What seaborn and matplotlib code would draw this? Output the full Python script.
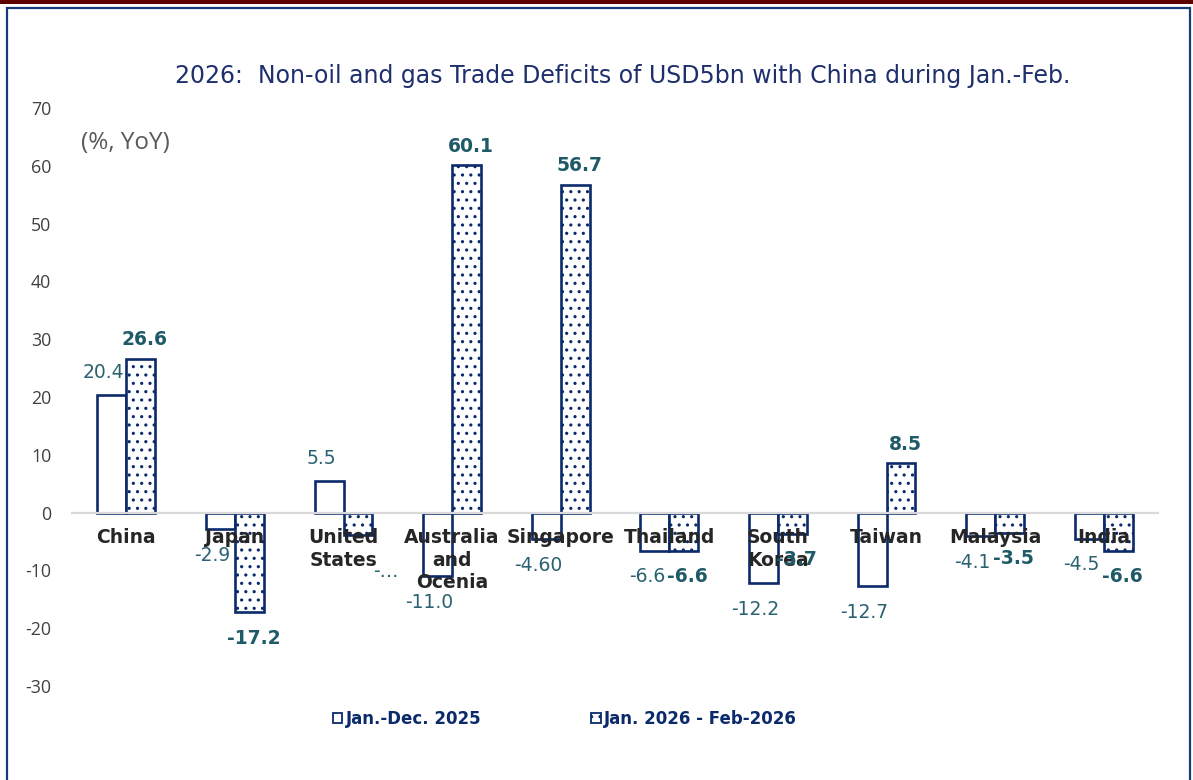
import matplotlib
matplotlib.use("Agg")
import matplotlib.pyplot as plt
import seaborn as sns
import pandas as pd
from matplotlib.patches import Rectangle, Patch

# ---- data ----
countries = ["China", "Japan", "United\nStates", "Australia\nand\nOcenia", "Singapore",
             "Thailand", "South\nKorea", "Taiwan", "Malaysia", "India"]
series_names = ["Jan.-Dec. 2025", "Jan. 2026 - Feb-2026"]
values_2025 = [20.4, -2.9, 5.5, -11.0, -4.6, -6.6, -12.2, -12.7, -4.1, -4.5]
values_2026 = [26.6, -17.2, -3.9, 60.1, 56.7, -6.6, -3.7, 8.5, -3.5, -6.6]
labels_2025 = ["20.4", "-2.9", "5.5", "-11.0", "-4.60", "-6.6", "-12.2", "-12.7", "-4.1", "-4.5"]
labels_2026 = ["26.6", "-17.2", "-\u2026", "60.1", "56.7", "-6.6", "-3.7", "8.5", "-3.5", "-6.6"]
y_ticks = [-30, -20, -10, 0, 10, 20, 30, 40, 50, 60, 70]
title = "2026:  Non-oil and gas Trade Deficits of USD5bn with China during Jan.-Feb."
unit_label = "(%, YoY)"

NAVY = "#0b2a6b"
HATCH = "#34497f"
TEAL = "#2b6272"
TEAL_B = "#1f5a68"

sns.set_theme(style="white")
plt.rcParams["font.family"] = ["DejaVu Sans"]
plt.rcParams["axes.unicode_minus"] = False
plt.rcParams["hatch.linewidth"] = 1.1

df = pd.DataFrame({
    "country": countries * 2,
    "period": [series_names[0]] * len(countries) + [series_names[1]] * len(countries),
    "value": values_2025 + values_2026,
})

fig = plt.figure(figsize=(11.93, 7.80), dpi=100)
W, H = 1193, 780
ax = fig.add_axes([72 / W, 1 - 686 / H, 1086 / W, (686 - 108) / H])

sns.barplot(data=df, x="country", y="value", hue="period", order=countries,
            hue_order=series_names, palette=["white", "white"], saturation=1,
            edgecolor=NAVY, linewidth=1.9, width=0.534, legend=False, ax=ax, errorbar=None)

for bar in ax.containers[1]:
    bar.set_hatch("..")
    try:
        bar.set_hatchcolor(HATCH)
    except Exception:
        pass

ax.set_xlim(-0.5, 9.5)
ax.set_ylim(-30, 70)
ax.set_yticks(y_ticks)
ax.set_xlabel("")
ax.set_ylabel("")
for s in ["top", "right", "left"]:
    ax.spines[s].set_visible(False)
ax.spines["bottom"].set_position(("data", 0))
ax.spines["bottom"].set_color("#d9d9d9")
ax.spines["bottom"].set_linewidth(1.6)
ax.xaxis.set_zorder(4)
ax.tick_params(axis="x", length=0, pad=11, labelsize=13.5, labelcolor="#262626")
ax.tick_params(axis="y", length=0, pad=15, labelsize=12.8, labelcolor="#404040")
for t in ax.get_xticklabels():
    t.set_fontweight("bold")
    t.set_linespacing(1.25)
for t in ax.get_yticklabels():
    t.set_fontfamily("Open Sans")

# data labels
px = 72 / 100
for i, bar in enumerate(ax.containers[0]):
    v = values_2025[i]
    x = bar.get_x() + bar.get_width() / 2
    dy = 22 if v >= 0 else -26
    ax.annotate(labels_2025[i], (x, v), xytext=(-8 * px, dy * px), textcoords="offset points",
                ha="center", va="center", fontsize=13.5, color=TEAL, zorder=5)
for i, bar in enumerate(ax.containers[1]):
    v = values_2026[i]
    x = bar.get_x() + bar.get_width() / 2
    dy = 19 if v >= 0 else -26
    dx = 4
    if labels_2026[i] == "-\u2026":
        ax.annotate(labels_2026[i], (x, v), xytext=(28 * px, -36 * px), textcoords="offset points",
                    ha="center", va="center", fontsize=13.5, color=TEAL, zorder=5)
        continue
    ax.annotate(labels_2026[i], (x, v), xytext=(dx * px, dy * px), textcoords="offset points",
                ha="center", va="center", fontsize=13.5, color=TEAL_B, fontweight="bold", zorder=5)

# title and unit label
fig.text(623 / W, 1 - 76 / H, title, ha="center", va="center", fontsize=17, color="#1f2f6e")
fig.text(125 / W, 1 - 143 / H, unit_label, ha="center", va="center", fontsize=17.5,
         color="#595959", family="Open Sans")

# legend
handles = [Patch(facecolor="white", edgecolor=NAVY, linewidth=1.3),
           Patch(facecolor="white", edgecolor=NAVY, linewidth=1.3, hatch="..")]
leg = fig.legend(handles, series_names, loc="center", bbox_to_anchor=(565 / W, 1 - 719 / H),
                 ncol=2, frameon=False, handlelength=0.55, handleheight=0.55,
                 handletextpad=0.2, columnspacing=6.6,
                 prop={"weight": "bold", "size": 12})
for t in leg.get_texts():
    t.set_color(NAVY)

# frame and top band
fig.patches.append(Rectangle((0, 1 - 3.5 / H), 1, 3.5 / H, transform=fig.transFigure,
                             facecolor="#5c0000", edgecolor="none", zorder=0))
fig.patches.append(Rectangle((7.5 / W, -0.05), (1189.5 - 7.5) / W, 1.05 - 8 / H,
                             transform=fig.transFigure, fill=False, edgecolor="#163a7a",
                             linewidth=1.6, zorder=0))

fig.savefig("out.png", dpi=100)
